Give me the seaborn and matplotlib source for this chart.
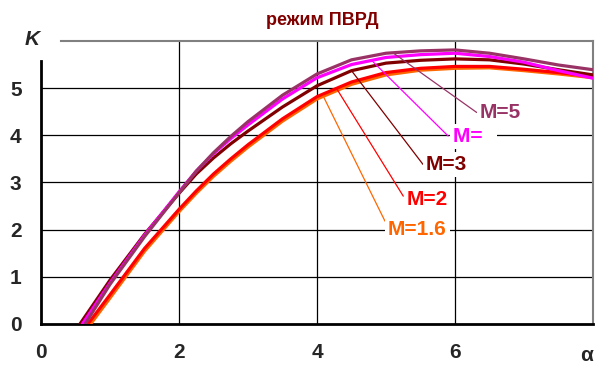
import matplotlib
matplotlib.use('Agg')
import matplotlib.pyplot as plt
import pandas as pd
import seaborn as sns

# curves K(alpha) for each flight Mach number
alpha_m5 = [0.64, 1.0, 1.5, 2.0, 2.25, 2.5, 2.75, 3.0, 3.5, 4.0, 4.5, 5.0, 5.5, 6.0, 6.5, 7.0, 7.5, 8.0]
k_m5 = [0.0, 0.84, 1.85, 2.78, 3.24, 3.63, 3.975, 4.29, 4.85, 5.3, 5.6, 5.74, 5.79, 5.81, 5.74, 5.62, 5.49, 5.39]

alpha_m4 = [0.6, 1.0, 1.5, 2.0, 2.25, 2.5, 2.75, 3.0, 3.5, 4.0, 4.5, 5.0, 5.5, 6.0, 6.5, 7.0, 7.5, 8.0]
k_m4 = [0.0, 0.87, 1.88, 2.8, 3.24, 3.61, 3.93, 4.22, 4.77, 5.22, 5.5, 5.65, 5.71, 5.74, 5.67, 5.55, 5.37, 5.21]

alpha_m3 = [0.565, 1.0, 1.5, 2.0, 2.25, 2.5, 2.75, 3.0, 3.5, 4.0, 4.5, 5.0, 5.5, 6.0, 6.5, 7.0, 7.5, 8.0]
k_m3 = [0.0, 0.93, 1.9, 2.77, 3.18, 3.52, 3.82, 4.09, 4.6, 5.05, 5.37, 5.53, 5.59, 5.62, 5.6, 5.51, 5.39, 5.28]

alpha_m2 = [0.68, 1.0, 1.5, 2.0, 2.25, 2.5, 2.75, 3.0, 3.5, 4.0, 4.5, 5.0, 5.5, 6.0, 6.5, 7.0, 7.5, 8.0]
k_m2 = [0.0, 0.62, 1.6, 2.43, 2.82, 3.18, 3.5, 3.8, 4.35, 4.82, 5.13, 5.33, 5.42, 5.46, 5.46, 5.4, 5.33, 5.25]

alpha_m16 = [0.72, 1.0, 1.5, 2.0, 2.25, 2.5, 2.75, 3.0, 3.5, 4.0, 4.5, 5.0, 5.5, 6.0, 6.5, 7.0, 7.5, 8.0]
k_m16 = [0.0, 0.55, 1.54, 2.38, 2.77, 3.13, 3.45, 3.75, 4.3, 4.77, 5.08, 5.28, 5.38, 5.42, 5.43, 5.37, 5.3, 5.22]

labels = ['M=1.6', 'M=2', 'M=3', 'M=4', 'M=5']
colors = ['#FF6600', '#FF0000', '#800000', '#FF00FF', '#993366']
# label text shown (the M=4 label is clipped in the original)
label_text = ['M=1.6', 'M=2', 'M=3', 'M=  ', 'M=5']
# leader line start (on curve), leader end and label position
leader_xy = [(4.09, 4.83), (4.28, 5.0), (4.50, 5.37), (4.79, 5.59), (5.10, 5.75)]
leader_end = [(4.985, 2.18), (5.25, 2.71), (5.536, 3.383), (5.90, 3.985), (6.315, 4.483)]
label_xy = [(5.03, 2.0), (5.30, 2.64), (5.58, 3.38), (5.97, 3.98), (6.36, 4.49)]

frames = []
for lab, a, k in zip(labels, [alpha_m16, alpha_m2, alpha_m3, alpha_m4, alpha_m5],
                     [k_m16, k_m2, k_m3, k_m4, k_m5]):
    frames.append(pd.DataFrame({'alpha': a, 'K': k, 'M': lab}))
df = pd.concat(frames, ignore_index=True)

sns.set_style('white')
plt.rcParams['font.family'] = ['Liberation Sans', 'DejaVu Sans']

fig = plt.figure(figsize=(6.08, 3.69), dpi=100)
ax = fig.add_axes([0.0674, 0.122, 0.908, 0.767])

sns.lineplot(data=df, x='alpha', y='K', hue='M', hue_order=labels,
             palette=dict(zip(labels, colors)), estimator=None, sort=False,
             linewidth=2.3, legend=False, ax=ax, zorder=3)
for ln in ax.lines:
    ln.set_solid_joinstyle('round')

ax.set_xlim(0, 8)
ax.set_ylim(0, 6)
ax.set_xticks([0, 2, 4, 6, 8])
ax.set_xticklabels(['0', '2', '4', '6', ''])
ax.set_yticks([0, 1, 2, 3, 4, 5])
ax.set_xlabel('')
ax.set_ylabel('')
ax.tick_params(axis='both', direction='out', length=5, width=1.5, color='black',
               labelsize=15, pad=9)
for t in ax.get_xticklabels() + ax.get_yticklabels():
    t.set_fontweight('bold')

# grid lines
for y in [1, 2, 3, 4, 5]:
    ax.axhline(y, color='black', lw=0.9, zorder=1)
for x in [2, 4, 6]:
    ax.axvline(x, color='black', lw=0.9, zorder=1)

ax.spines['left'].set_color('black')
ax.spines['left'].set_linewidth(2)
ax.spines['left'].set_bounds(0, 5.57)
ax.spines['bottom'].set_color('black')
ax.spines['bottom'].set_linewidth(2)
ax.spines['top'].set_color('#808080')
ax.spines['top'].set_linewidth(1.5)
ax.spines['top'].set_bounds(0.29, 8)
ax.spines['right'].set_color('#808080')
ax.spines['right'].set_linewidth(1.5)
for s in ax.spines.values():
    s.set_visible(True)

# curve labels with leader lines
for txt, c, p0, p1, pt in zip(label_text, colors, leader_xy, leader_end, label_xy):
    ax.plot([p0[0], p1[0]], [p0[1], p1[1]], color=c, lw=0.9, zorder=4)
    ax.text(pt[0], pt[1], txt, color=c, fontsize=15, fontweight='bold',
            ha='left', va='center', zorder=5,
            bbox=dict(boxstyle='square,pad=0.15', facecolor='white', edgecolor='none'))

ax.text(-0.13, 6.04, 'K', fontsize=15, fontweight='bold', fontstyle='italic',
        ha='center', va='center', clip_on=False)
ax.text(7.91, -0.66, 'α', fontsize=15, fontweight='bold', ha='center', va='center',
        clip_on=False)

fig.text(0.53, 0.945, 'режим ПВРД', color='#800000', fontsize=13, fontweight='bold',
         ha='center', va='center')

fig.savefig('out.png', dpi=100)
